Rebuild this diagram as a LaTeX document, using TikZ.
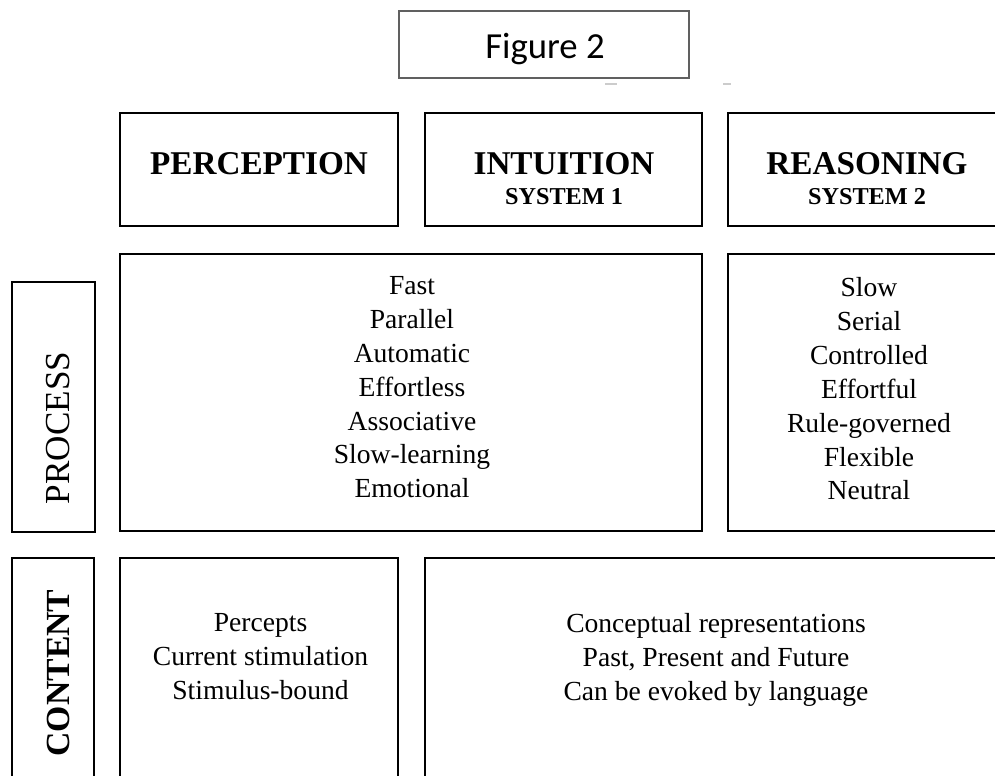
\documentclass[tikz,border=0pt]{standalone}
\usepackage{fontspec}
\setmainfont{Liberation Serif}
\newfontfamily\figfont{Carlito}
\usetikzlibrary{positioning}

\newcommand{\pxl}{0.02cm}

\begin{document}
\begin{tikzpicture}[x=0.02cm, y=-0.02cm,
        box/.style={draw=black, line width=1.5pt, inner sep=0pt},
        headtxt/.style={anchor=base, font=\fontsize{18.9}{22}\selectfont\bfseries},
        subtxt/.style={anchor=base, font=\fontsize{13.8}{16}\selectfont\bfseries},
        listtxt/.style={anchor=north, inner sep=0pt, align=center, font=\fontsize{15.7}{19.3}\selectfont},
        sidetxt/.style={rotate=90, inner sep=0pt, font=\fontsize{20}{22}\selectfont}]

        \useasboundingbox (0, 0) rectangle (995, 776);
        \clip (0, 0) rectangle (995, 776);

        % title
        \node[box, draw=gray!75!black, line width=0.8pt, minimum width=290*\pxl, minimum height=67*\pxl] (figbox) at (544, 44.5) {};
        \node[anchor=base, font=\figfont\fontsize{20.9}{24}\selectfont] (figtitle) at (545, 59) {Figure 2};
        \draw[gray!40, line width=1.5pt] (605, 84) -- ++ (12, 0);
        \draw[gray!40, line width=1.5pt] (723, 84) -- ++ (8, 0);

        % header row
        \node[box, minimum width=278*\pxl, minimum height=113*\pxl] (percbox) at (259, 169.5) {};
        \node[box, minimum width=277*\pxl, minimum height=113*\pxl] (intubox) at (563.5, 169.5) {};
        \node[box, minimum width=280*\pxl, minimum height=113*\pxl] (reasbox) at (868, 169.5) {};

        \node[headtxt] (perctitle) at (259, 175) {PERCEPTION};
        \node[headtxt] (intutitle) at (564, 175) {INTUITION};
        \node[subtxt] (intusub) at (564, 205) {SYSTEM 1};
        \node[headtxt] (reastitle) at (867, 175) {REASONING};
        \node[subtxt] (reassub) at (867, 205) {SYSTEM 2};

        % process row
        \node[box, minimum width=83*\pxl, minimum height=250*\pxl] (proclabel) at (53.5, 407) {};
        \node[box, minimum width=582*\pxl, minimum height=277*\pxl] (procone) at (411, 392.5) {};
        \node[box, minimum width=280*\pxl, minimum height=277*\pxl] (proctwo) at (868, 392.5) {};

        \node[sidetxt] (proctext) at (58, 428) {PROCESS};
        \node[listtxt] (proconelist) at (412, 276) {Fast\\Parallel\\Automatic\\Effortless\\Associative\\Slow-learning\\Emotional};
        \node[listtxt] (proctwolist) at (869, 277) {Slow\\Serial\\Controlled\\Effortful\\Rule-governed\\Flexible\\Neutral};

        % content row
        \node[box, minimum width=82*\pxl, minimum height=262*\pxl] (contlabel) at (53, 689) {};
        \node[box, minimum width=278*\pxl, minimum height=262*\pxl] (contone) at (259, 689) {};
        \node[box, minimum width=583*\pxl, minimum height=262*\pxl] (conttwo) at (716.5, 689) {};

        \node[sidetxt, font=\fontsize{19.2}{22}\selectfont\bfseries] (conttext) at (58.5, 673) {CONTENT};
        \node[listtxt] (contonelist) at (260.5, 613) {Percepts\\Current stimulation\\Stimulus-bound};
        \node[listtxt] (conttwolist) at (716, 613) {Conceptual representations\\Past, Present and Future\\Can be evoked by language};
    \end{tikzpicture}
\end{document}
